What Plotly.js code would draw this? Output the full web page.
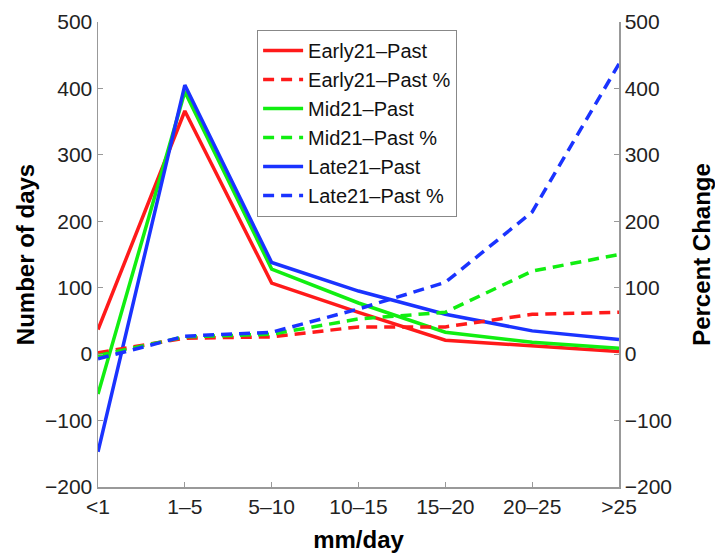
<!DOCTYPE html>
<html>
<head>
<meta charset="utf-8">
<script src="https://cdn.plot.ly/plotly-3.0.1.min.js"></script>
<style>html,body{margin:0;padding:0;background:#fff;}#chart{width:715px;height:556px;}</style>
</head>
<body>
<div id="chart"></div>
<script>
var categories = ["<1", "1\u20135", "5\u201310", "10\u201315", "15\u201320", "20\u201325", ">25"];

var earlyDays = [37, 366, 107, 63, 21, 12, 4];
var midDays   = [-60, 395, 128, 77, 33, 18, 9];
var lateDays  = [-147, 405, 138, 95, 60, 35, 22];

var earlyPct = [2, 24, 26, 41, 41, 60, 63];
var midPct   = [-2, 26, 30, 53, 63, 125, 150];
var latePct  = [-7, 27, 33, 68, 108, 214, 437];

var seriesNames = ["Early21\u2013Past", "Early21\u2013Past %", "Mid21\u2013Past", "Mid21\u2013Past %", "Late21\u2013Past", "Late21\u2013Past %"];

var red = "#ff1a1a", green = "#11ee11", blue = "#1a33ff";
var dashPat = "11px,7px";

function solid(y, name, color) {
  return {x: categories, y: y, name: name, type: "scatter", mode: "lines",
          line: {color: color, width: 3.5}, yaxis: "y"};
}
function dashed(y, name, color) {
  return {x: categories, y: y, name: name, type: "scatter", mode: "lines",
          line: {color: color, width: 3.5, dash: dashPat}, yaxis: "y2"};
}

var data = [
  solid(earlyDays, seriesNames[0], red),
  dashed(earlyPct, seriesNames[1], red),
  solid(midDays, seriesNames[2], green),
  dashed(midPct, seriesNames[3], green),
  solid(lateDays, seriesNames[4], blue),
  dashed(latePct, seriesNames[5], blue)
];

var fontFam = "Liberation Sans, Arial, Helvetica, sans-serif";
var tickFont = {family: fontFam, size: 21, color: "#222"};
var titleFont = {family: fontFam, size: 24, color: "#000", weight: "bold"};

var layout = {
  width: 715, height: 556,
  margin: {l: 98, r: 96, t: 22, b: 69},
  paper_bgcolor: "#fff", plot_bgcolor: "#fff",
  showlegend: true,
  legend: {x: 0.305, y: 0.983, xanchor: "left", yanchor: "top",
           bgcolor: "#fff", bordercolor: "#888", borderwidth: 1.2,
           font: {family: fontFam, size: 20, color: "#111"},
           tracegroupgap: 0, itemwidth: 40},
  xaxis: {type: "category", categoryorder: "array", categoryarray: categories,
          range: [0, 6], showgrid: false, zeroline: false,
          showline: true, linecolor: "#999", linewidth: 1.5, mirror: false,
          ticks: "inside", ticklen: 5, tickcolor: "#999",
          tickfont: tickFont,
          title: {text: "mm/day", font: titleFont, standoff: 14}},
  yaxis: {range: [-200, 500], dtick: 100, showgrid: false, zeroline: false,
          showline: true, linecolor: "#999", linewidth: 1.5,
          ticks: "inside", ticklen: 5, tickcolor: "#999",
          tickfont: tickFont,
          title: {text: "Number of days", font: titleFont, standoff: 3}},
  yaxis2: {range: [-200, 500], dtick: 100, overlaying: "y", side: "right",
          showgrid: false, zeroline: false,
          showline: true, linecolor: "#999", linewidth: 1.5,
          ticks: "inside", ticklen: 5, tickcolor: "#999",
          tickfont: tickFont,
          title: {text: "Percent Change", font: titleFont, standoff: 22}}
};

Plotly.newPlot("chart", data, layout, {displayModeBar: false, staticPlot: true});
</script>
</body>
</html>
